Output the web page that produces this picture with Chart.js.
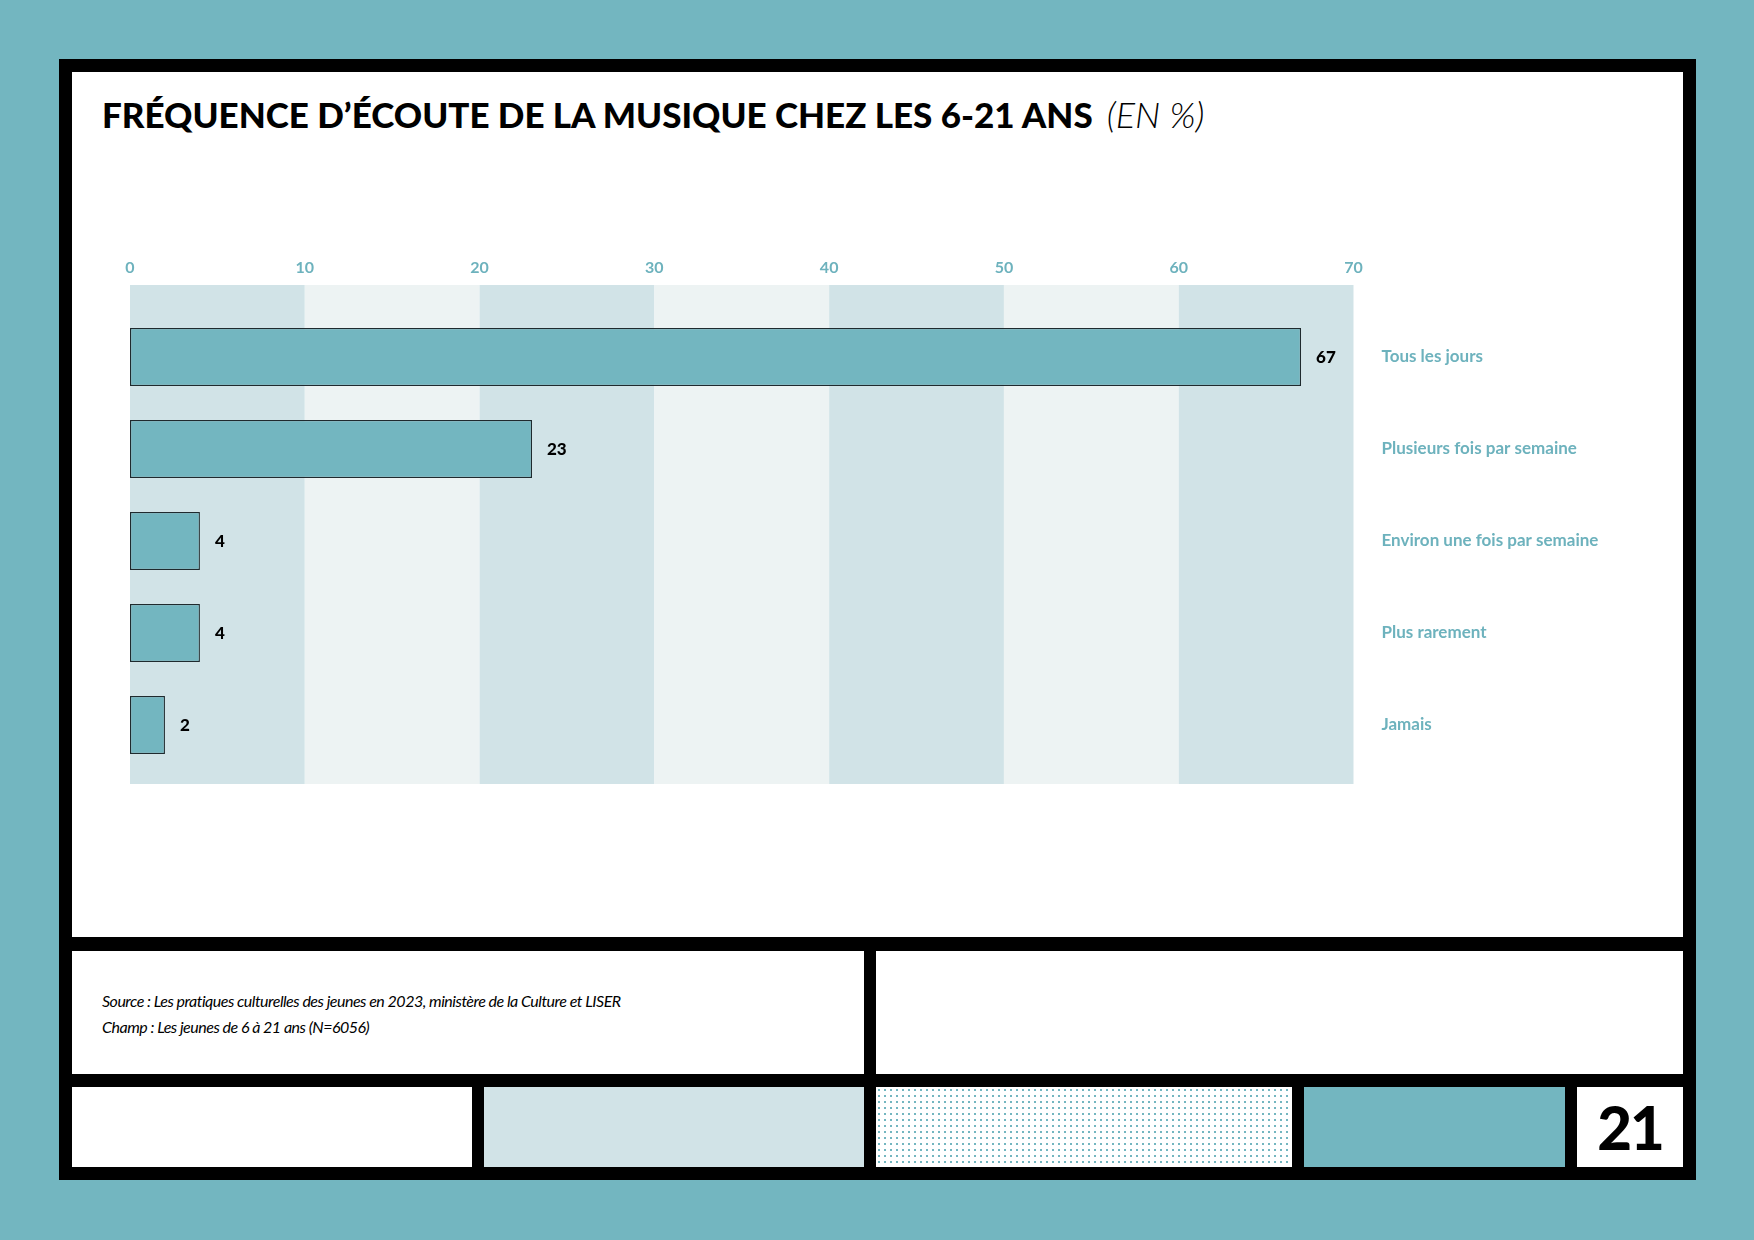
<!DOCTYPE html>
<html lang="fr">
<head>
<meta charset="utf-8">
<title>Fréquence d'écoute de la musique</title>
<script src="https://cdn.jsdelivr.net/npm/chart.js"></script>
<style>
    html, body { margin: 0; padding: 0; }
    body { width: 1754px; height: 1240px; background: #73b6c0; position: relative; overflow: hidden; font-family: Lato, "Open Sans", sans-serif; }
    .box { position: absolute; }
    #frame { left: 59px; top: 59px; width: 1637px; height: 1121px; background: #000; }
    #panel { left: 72px; top: 72px; width: 1611px; height: 865px; background: #fff; }
    #title { position: absolute; left: 30px; top: 20px; font-size: 35px; font-weight: 900; color: #000; white-space: nowrap; letter-spacing: 0px; }
    #title span { font-weight: 300; font-style: italic; margin-left: 14px; font-size: 36px; }
    #chartWrap { position: absolute; left: 0; top: 0; width: 1611px; height: 865px; }
    #source { left: 72px; top: 951px; width: 792px; height: 123px; background: #fff; }
    #source p { margin: 0; position: absolute; left: 30px; font-style: italic; font-weight: 400; font-size: 16px; color: #000; white-space: nowrap; letter-spacing: -0.5px; }
    #blank2 { left: 876px; top: 951px; width: 807px; height: 123px; background: #fff; }
    #b1 { left: 72px; top: 1087px; width: 400px; height: 80px; background: #fff; }
    #b2 { left: 484px; top: 1087px; width: 380px; height: 80px; background: #d1e3e7; }
    #b3 { left: 876px; top: 1087px; width: 416px; height: 80px; background-color: #fff;
          background-image: radial-gradient(#73b6c0 1px, transparent 1.4px); background-size: 6px 6px; }
    #b4 { left: 1304px; top: 1087px; width: 261px; height: 80px; background: #73b6c0; }
    #b5 { left: 1577px; top: 1087px; width: 106px; height: 80px; background: #fff; text-align: center;
          font-weight: 900; font-size: 60px; line-height: 80px; color: #000; letter-spacing: -2px; }
</style>
</head>
<body>
<div class="box" id="frame"></div>
<div class="box" id="panel">
    <div id="title">FRÉQUENCE D’ÉCOUTE DE LA MUSIQUE CHEZ LES 6-21 ANS<span>(EN %)</span></div>
    <div id="chartWrap"><canvas id="freqChart" width="1611" height="865"></canvas></div>
</div>
<div class="box" id="source">
    <p style="top:40px">Source : Les pratiques culturelles des jeunes en 2023, ministère de la Culture et LISER</p>
    <p style="top:66px">Champ : Les jeunes de 6 à 21 ans (N=6056)</p>
</div>
<div class="box" id="blank2"></div>
<div class="box" id="b1"></div>
<div class="box" id="b2"></div>
<div class="box" id="b3"></div>
<div class="box" id="b4"></div>
<div class="box" id="b5">21</div>

<script>
// data
var categories = ["Tous les jours", "Plusieurs fois par semaine", "Environ une fois par semaine", "Plus rarement", "Jamais"];
var percents = [67, 23, 4, 4, 2];
var axisMin = 0;
var axisMax = 70;
var axisStep = 10;

var teal = "#73b6c0";
var tealText = "#6db2bd";

/**
 * Alternating background bands between the x ticks
 */
var bandsPlugin = {
    id: 'bands',
    beforeDatasetsDraw: function (chart) {
        var ctx = chart.ctx;
        var x = chart.scales.x;
        var area = chart.chartArea;
        var top = area.top - 26;
        var bottom = area.bottom + 13;
        ctx.save();
        for (var i = 0; i < x.ticks.length - 1; i++) {
            var x0 = x.getPixelForValue(x.ticks[i].value);
            var x1 = x.getPixelForValue(x.ticks[i + 1].value);
            ctx.fillStyle = (i % 2 == 0) ? "#d1e3e7" : "#edf3f3";
            ctx.fillRect(x0, top, x1 - x0, bottom - top);
        }
        ctx.restore();
    }
};

/**
 * Value written after the end of each bar
 */
var valuesPlugin = {
    id: 'values',
    afterDatasetsDraw: function (chart) {
        var ctx = chart.ctx;
        var meta = chart.getDatasetMeta(0);
        ctx.save();
        ctx.fillStyle = "#000";
        ctx.font = "900 17px Lato";
        ctx.textAlign = "left";
        ctx.textBaseline = "middle";
        meta.data.forEach(function (bar, i) {
            ctx.fillText(String(chart.data.datasets[0].data[i]), bar.x + 15, bar.y + 1);
        });
        ctx.restore();
    }
};

function makeChart() {
    var ctx = document.getElementById("freqChart").getContext("2d");
    new Chart(ctx, {
        type: 'bar',
        data: {
            labels: categories,
            datasets: [{
                data: percents,
                backgroundColor: teal,
                borderColor: "#1f2a2e",
                borderWidth: 1.3,
                borderSkipped: false,
                barPercentage: 0.63,
                categoryPercentage: 1
            }]
        },
        options: {
            indexAxis: 'y',
            responsive: false,
            animation: false,
            layout: { padding: { left: 58, top: 179, right: 0, bottom: 166 } },
            plugins: {
                legend: { display: false },
                tooltip: { enabled: false }
            },
            scales: {
                x: {
                    position: 'top',
                    min: axisMin,
                    max: axisMax,
                    grid: { display: false, drawTicks: false },
                    border: { display: false },
                    ticks: {
                        stepSize: axisStep,
                        padding: 34,
                        color: tealText,
                        font: { family: 'Lato', weight: 'bold', size: 16 }
                    },
                    afterFit: function (scale) { scale.height = 60; }
                },
                y: {
                    position: 'right',
                    grid: { display: false, drawTicks: false },
                    border: { display: false },
                    ticks: {
                        crossAlign: 'near',
                        padding: 28,
                        color: tealText,
                        font: { family: 'Lato', weight: 'bold', size: 17 }
                    },
                    afterFit: function (scale) { scale.width = 329.5; }
                }
            }
        },
        plugins: [bandsPlugin, valuesPlugin]
    });
}

if (document.fonts && document.fonts.load) {
    Promise.all([
        document.fonts.load("bold 16px Lato"),
        document.fonts.load("900 35px Lato")
    ]).then(makeChart, makeChart);
} else {
    makeChart();
}
</script>
</body>
</html>
